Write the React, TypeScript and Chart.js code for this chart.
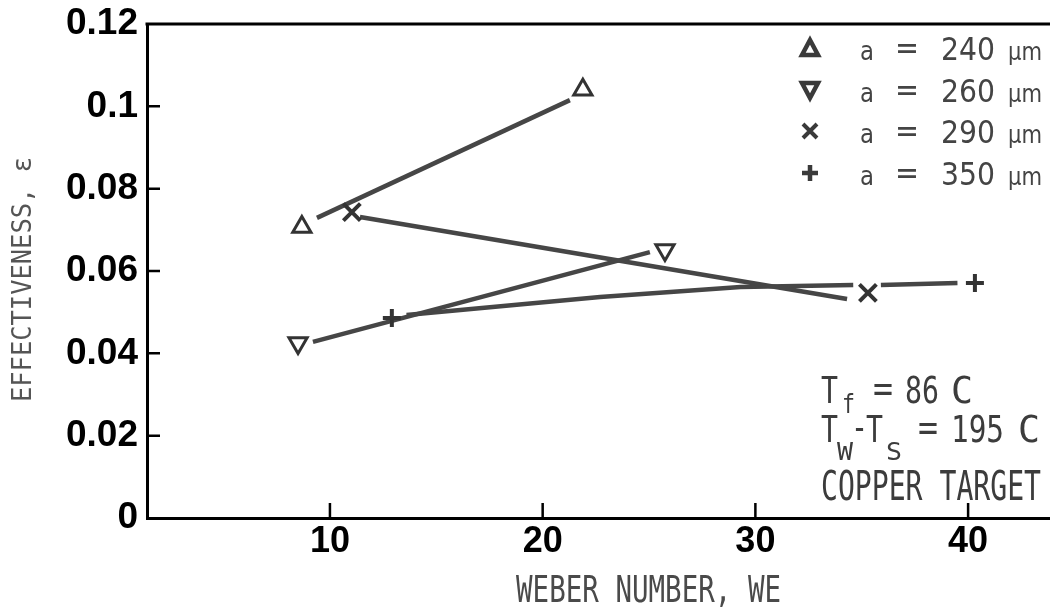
import React, { useEffect, useRef } from 'react';
import { Chart, registerables } from 'chart.js';

Chart.register(...registerables);

// ---- axis ticks ----
const xTickValues = [10, 20, 30, 40];
const xTickLabels = ['10', '20', '30', '40'];
const yTickValues = [0, 0.02, 0.04, 0.06, 0.08, 0.1, 0.12];
const yTickLabels = ['0', '0.02', '0.04', '0.06', '0.08', '0.1', '0.12'];

// ---- series (Weber number, effectiveness) ----
const seriesNames = ['a = 240 μm', 'a = 260 μm', 'a = 290 μm', 'a = 350 μm'];
const legendSizes = ['240', '260', '290', '350'];

const points240 = [{ x: 8.68, y: 0.0707 }, { x: 21.89, y: 0.104 }];
const points260 = [{ x: 8.5, y: 0.0425 }, { x: 25.75, y: 0.0651 }];
const points290 = [{ x: 11.03, y: 0.0743 }, { x: 35.29, y: 0.0547 }];
const points350 = [{ x: 12.91, y: 0.0486 }, { x: 40.32, y: 0.0571 }];

const fit240 = [{ x: 9.39, y: 0.0729 }, { x: 21.28, y: 0.1015 }];
const fit260 = [{ x: 9.2, y: 0.0428 }, { x: 25.04, y: 0.0646 }];
const fit290 = [{ x: 11.41, y: 0.0731 }, { x: 34.31, y: 0.0532 }];
const fit350 = [
  { x: 13.6, y: 0.0493 },
  { x: 22.7, y: 0.0537 },
  { x: 29.3, y: 0.0561 },
  { x: 34.6, y: 0.0566 },
  { x: 35.2, y: null },
  { x: 35.9, y: 0.0566 },
  { x: 39.5, y: 0.0571 },
];

const INK = '#3a3a3a';
const MONO = '"DejaVu Sans Mono", monospace';
const SANS = '"DejaVu Sans", sans-serif';

function fitText(
  ctx: CanvasRenderingContext2D,
  text: string,
  x: number,
  y: number,
  size: number,
  width: number,
  family: string,
  color: string
) {
  ctx.save();
  ctx.font = `normal ${size}px ${family}`;
  const w = ctx.measureText(text).width;
  const sx = width / w;
  ctx.translate(x, y);
  ctx.scale(sx, 1);
  ctx.fillStyle = color;
  ctx.textAlign = 'left';
  ctx.textBaseline = 'alphabetic';
  ctx.fillText(text, 0, 0);
  ctx.restore();
}

const framePlugin = {
  id: 'frame',
  beforeDatasetsDraw(chart: any) {
    const { ctx, chartArea, scales } = chart;
    const { left, right, top, bottom } = chartArea;
    ctx.save();
    ctx.strokeStyle = '#000';
    ctx.lineWidth = 3;
    ctx.beginPath();
    ctx.moveTo(left - 1.5, top);
    ctx.lineTo(right, top);
    ctx.stroke();
    ctx.lineWidth = 2.5;
    ctx.beginPath();
    yTickValues.forEach((v) => {
      if (v === yTickValues[0] || v === yTickValues[yTickValues.length - 1]) return;
      const py = scales.y.getPixelForValue(v);
      ctx.moveTo(left, py);
      ctx.lineTo(left + 13, py);
    });
    xTickValues.forEach((v) => {
      const px = scales.x.getPixelForValue(v);
      ctx.moveTo(px, bottom);
      ctx.lineTo(px, bottom - 15);
    });
    ctx.stroke();
    ctx.restore();
  },
  afterDraw(chart: any) {
    const ctx: CanvasRenderingContext2D = chart.ctx;
    // axis titles
    fitText(ctx, 'WEBER NUMBER, WE', 516, 602, 38, 265, MONO, '#4a4a4a');
    ctx.save();
    ctx.translate(31, 402);
    ctx.rotate(-Math.PI / 2);
    fitText(ctx, 'EFFECTIVENESS, ε', 0, 0, 26, 245, MONO, '#555');
    ctx.restore();

    // legend
    const rows = [48, 90, 131, 173];
    const sx = 810;
    ctx.save();
    ctx.strokeStyle = INK;
    ctx.lineJoin = 'miter';
    rows.forEach((cy, i) => {
      ctx.beginPath();
      if (i === 0) {
        ctx.lineWidth = 4.5;
        ctx.moveTo(sx, cy - 8);
        ctx.lineTo(sx + 8, cy + 7);
        ctx.lineTo(sx - 8, cy + 7);
        ctx.closePath();
      } else if (i === 1) {
        ctx.lineWidth = 4.5;
        ctx.moveTo(sx, cy + 8);
        ctx.lineTo(sx + 8, cy - 7);
        ctx.lineTo(sx - 8, cy - 7);
        ctx.closePath();
      } else if (i === 2) {
        ctx.lineWidth = 4;
        ctx.moveTo(sx - 7, cy - 7);
        ctx.lineTo(sx + 7, cy + 7);
        ctx.moveTo(sx + 7, cy - 7);
        ctx.lineTo(sx - 7, cy + 7);
      } else {
        ctx.lineWidth = 4.5;
        ctx.moveTo(sx - 8, cy);
        ctx.lineTo(sx + 8, cy);
        ctx.moveTo(sx, cy - 8);
        ctx.lineTo(sx, cy + 8);
      }
      ctx.stroke();
      const base = cy + 12;
      fitText(ctx, 'a', 860, base, 27, 14, SANS, '#444');
      fitText(ctx, '=', 895, base - 1, 32, 24, SANS, '#444');
      fitText(ctx, legendSizes[i], 941, base, 32, 54, SANS, '#444');
      fitText(ctx, 'μm', 1008, base, 24, 34, SANS, '#444');
    });
    ctx.restore();

    // conditions
    const c = '#3c3c3c';
    fitText(ctx, 'T', 821, 403, 38, 17, MONO, c);
    fitText(ctx, 'f', 842, 413, 26, 13, MONO, c);
    fitText(ctx, '=', 873, 401, 38, 20, MONO, c);
    fitText(ctx, '86', 905, 403, 38, 34, MONO, c);
    fitText(ctx, 'C', 951, 403, 38, 22, MONO, c);

    fitText(ctx, 'T', 821, 442, 38, 17, MONO, c);
    fitText(ctx, 'W', 837, 460, 24, 16, MONO, c);
    fitText(ctx, '-', 851, 440, 38, 17, MONO, c);
    fitText(ctx, 'T', 866, 442, 38, 17, MONO, c);
    fitText(ctx, 'S', 886, 460, 24, 16, MONO, c);
    fitText(ctx, '=', 918, 440, 38, 20, MONO, c);
    fitText(ctx, '195', 951, 442, 38, 53, MONO, c);
    fitText(ctx, 'C', 1018, 442, 38, 22, MONO, c);

    fitText(ctx, 'COPPER TARGET', 821, 500, 40, 220, MONO, c);
  },
};

const tickFont = { family: '"Liberation Sans", Arial, sans-serif', size: 37, weight: 'bold' as const };

export default function App() {
  const ref = useRef<HTMLCanvasElement | null>(null);

  useEffect(() => {
    if (!ref.current) return;
    const markerBase = {
      showLine: false,
      pointBorderColor: '#333',
      pointBackgroundColor: '#fff',
      pointBorderWidth: 3,
    };
    const lineBase = {
      showLine: true,
      borderColor: '#464646',
      borderWidth: 4.5,
      pointRadius: 0,
      spanGaps: false,
      tension: 0,
    };
    const chart = new Chart(ref.current, {
      type: 'scatter',
      data: {
        datasets: [
          { ...markerBase, label: seriesNames[0], data: points240, pointStyle: 'triangle', pointRadius: 10.5 },
          { ...markerBase, label: seriesNames[1], data: points260, pointStyle: 'triangle', pointRotation: 180, pointRadius: 10.5 },
          { ...markerBase, label: seriesNames[2], data: points290, pointStyle: 'crossRot', pointRadius: 12, pointBorderWidth: 4 },
          { ...markerBase, label: seriesNames[3], data: points350, pointStyle: 'cross', pointRadius: 9, pointBorderWidth: 4 },
          { ...lineBase, label: seriesNames[0] + ' fit', data: fit240 },
          { ...lineBase, label: seriesNames[1] + ' fit', data: fit260 },
          { ...lineBase, label: seriesNames[2] + ' fit', data: fit290 },
          { ...lineBase, label: seriesNames[3] + ' fit', data: fit350 },
        ] as any,
      },
      options: {
        animation: false,
        responsive: false,
        layout: { autoPadding: false, padding: { top: 24, left: 0, right: 0, bottom: 0 } },
        plugins: {
          legend: { display: false },
          tooltip: { enabled: false },
        },
        scales: {
          x: {
            type: 'linear',
            min: 1.4,
            max: 43.85,
            grid: { display: false, drawTicks: false },
            border: { display: true, color: '#000', width: 3 },
            ticks: {
              padding: 2,
              color: '#000',
              font: { ...tickFont, size: 36 },
              callback: (v: any) => {
                const i = xTickValues.indexOf(Number(v));
                return i >= 0 ? xTickLabels[i] : '';
              },
            },
            afterBuildTicks: (s: any) => {
              s.ticks = xTickValues.map((v) => ({ value: v }));
            },
            afterFit: (s: any) => {
              s.height = 95;
              s.paddingLeft = 0;
              s.paddingRight = 0;
            },
          },
          y: {
            type: 'linear',
            min: 0,
            max: 0.12,
            grid: { display: false, drawTicks: false },
            border: { display: true, color: '#000', width: 3 },
            ticks: {
              padding: 9,
              color: '#000',
              font: tickFont,
              callback: (v: any) => {
                const i = yTickValues.findIndex((t) => Math.abs(t - Number(v)) < 1e-9);
                return i >= 0 ? yTickLabels[i] : '';
              },
            },
            afterBuildTicks: (s: any) => {
              s.ticks = yTickValues.map((v) => ({ value: v }));
            },
            afterFit: (s: any) => {
              s.width = 147;
              s.paddingTop = 0;
              s.paddingBottom = 0;
            },
          },
        },
      },
      plugins: [framePlugin],
    });
    return () => chart.destroy();
  }, []);

  return (
    <div style={{ position: 'fixed', left: 0, top: 0, width: 1050, height: 613, background: '#fff' }}>
      <canvas ref={ref} width={1050} height={613} style={{ display: 'block' }} />
    </div>
  );
}
